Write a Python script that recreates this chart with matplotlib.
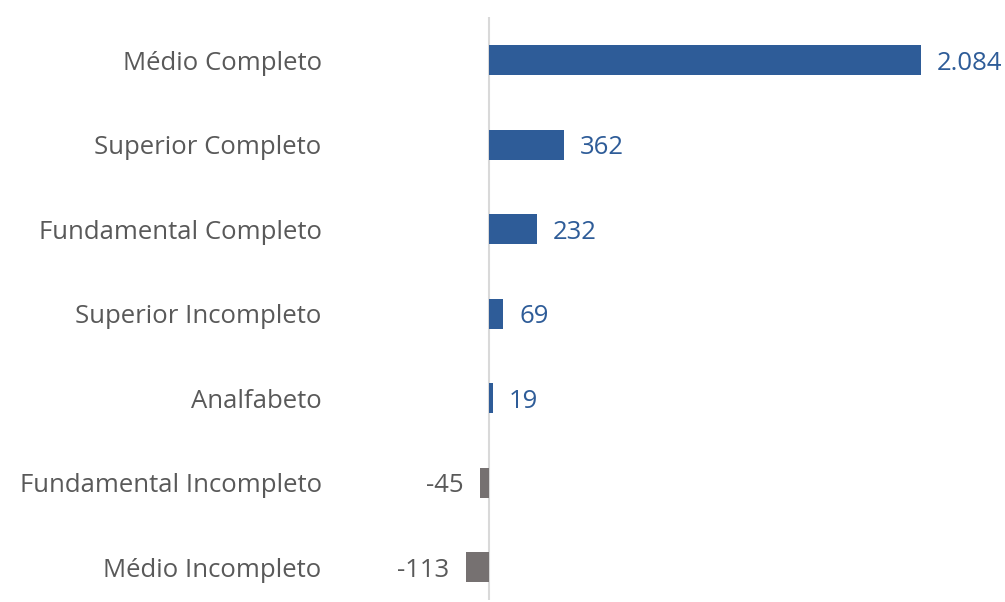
import matplotlib.pyplot as plt

# data
categorias = ["Médio Completo", "Superior Completo", "Fundamental Completo",
              "Superior Incompleto", "Analfabeto", "Fundamental Incompleto",
              "Médio Incompleto"]
saldos = [2084, 362, 232, 69, 19, -45, -113]
rotulos = ["2.084", "362", "232", "69", "19", "-45", "-113"]

azul = "#2E5C98"
cinza = "#767171"
texto = "#595959"

plt.rcParams['font.family'] = ['Open Sans', 'DejaVu Sans']

fig = plt.figure(figsize=(10.05, 6.02), dpi=100)
# axes placed in pixels: left 380, right 960, top 17, bottom 600
ax = fig.add_axes([380/1005, 2/602, 580/1005, 583/602])

pos = list(range(len(categorias)))
cores = [azul if v >= 0 else cinza for v in saldos]
ax.barh(pos, saldos, height=0.355, color=cores, zorder=2)

for y, v, r in zip(pos, saldos, rotulos):
    if v >= 0:
        ax.annotate(r, (v, y), xytext=(16, 0), textcoords='offset pixels',
                    ha='left', va='center_baseline', fontsize=18.5, color=azul)
    else:
        ax.annotate(r, (v, y), xytext=(-16, 0), textcoords='offset pixels',
                    ha='right', va='center_baseline', fontsize=18.5, color=texto)

ax.axvline(0, color="#D9D9D9", linewidth=1.5, zorder=1)

ax.set_xlim(-526, 2272)
ax.set_ylim(6.39, -0.509)
ax.set_yticks(pos)
ax.set_yticklabels(categorias, fontsize=18.5, color=texto)
ax.tick_params(axis='y', length=0, pad=42)
ax.set_xticks([])
for s in ax.spines.values():
    s.set_visible(False)

fig.savefig("out.png", dpi=100)
